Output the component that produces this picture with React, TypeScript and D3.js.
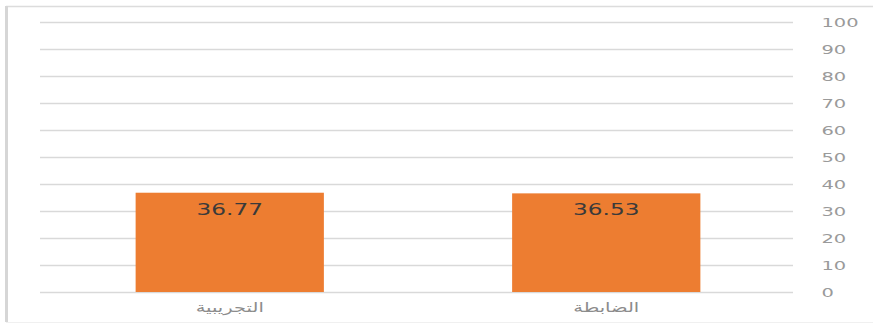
import React from "react";
import * as d3 from "d3";

const categories = ["التجريبية", "الضابطة"];
const values = [36.77, 36.53];
const yTicks = [0, 10, 20, 30, 40, 50, 60, 70, 80, 90, 100];

const W = 873;
const H = 325;

export default function App() {
  const x = d3.scaleBand<string>().domain(categories).range([41.5, 794.5]).paddingInner(0.5).paddingOuter(0.25);
  const y = d3.scaleLinear().domain([0, 100]).range([292, 22]);

  return (
    <svg
      width={W}
      height={H}
      style={{ position: "absolute", left: 0, top: 0, background: "#fff" }}
    >
      <rect x={0} y={0} width={W} height={H} fill="#fff" />
      {/* frame */}
      <line x1={6} y1={6.5} x2={W} y2={6.5} stroke="#dcdcdc" strokeWidth={1.5} />
      <line x1={6.5} y1={6} x2={6.5} y2={322} stroke="#d6d6d6" strokeWidth={3} />
      <line x1={6} y1={322.5} x2={W} y2={322.5} stroke="#f0f0f0" strokeWidth={1} />
      {/* grid */}
      {yTicks.map((t) => (
        <line
          key={"g" + t}
          x1={40}
          x2={793}
          y1={Math.round(y(t)) + 0.5}
          y2={Math.round(y(t)) + 0.5}
          stroke="#d9d9d9"
          strokeWidth={1.3}
        />
      ))}
      {/* tick labels */}
      {yTicks.map((t) => (
        <text
          key={"t" + t}
          transform={`translate(821.5,${y(t) + 4.5}) scale(1.62,1)`}
          fontFamily="DejaVu Sans"
          fontSize={12}
          fill="#9a9a9a"
        >
          {t}
        </text>
      ))}
      {/* bars */}
      {categories.map((c, i) => (
        <rect
          key={"b" + c}
          x={x(c)!}
          y={y(values[i])}
          width={x.bandwidth()}
          height={y(0) - y(values[i])}
          fill="#ED7D31"
        />
      ))}
      {/* data labels */}
      {categories.map((c, i) => (
        <text
          key={"v" + c}
          transform={`translate(${x(c)! + x.bandwidth() / 2},${y(values[i]) + 22}) scale(1.45,1)`}
          textAnchor="middle"
          fontFamily="DejaVu Sans"
          fontSize={16}
          fill="#3a3a3a"
        >
          {values[i].toFixed(2)}
        </text>
      ))}
      {/* category labels */}
      {categories.map((c) => (
        <text
          key={"c" + c}
          transform={`translate(${x(c)! + x.bandwidth() / 2},312) scale(1.5,1)`}
          textAnchor="middle"
          fontFamily="DejaVu Sans"
          fontSize={13}
          fill="#8c8c8c"
          direction="rtl"
        >
          {c}
        </text>
      ))}
    </svg>
  );
}
